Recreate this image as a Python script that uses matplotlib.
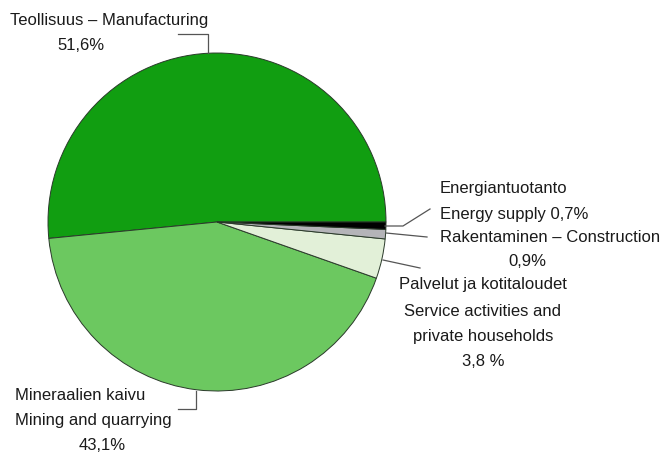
import matplotlib
matplotlib.use("Agg")
import matplotlib.pyplot as plt

# shares of the total, in percent
sectors = ["Manufacturing", "Mining", "Service", "Construction", "Energy"]
shares = [51.6, 43.1, 3.8, 0.9, 0.7]
colors = ["#119e11", "#6cc860", "#e2f0d8", "#b4b4b8", "#000000"]

plt.rcParams['font.family'] = ['Liberation Sans Narrow', 'Liberation Sans', 'DejaVu Sans']

fig = plt.figure(figsize=(6.61, 4.57), dpi=100)
ax = fig.add_axes([0, 0, 1, 1])

# pixel-like coordinates, y pointing down
ax.pie(shares, colors=colors, startangle=0, counterclock=False,
       center=(217, 222), radius=169,
       wedgeprops=dict(edgecolor="#2a3a2a", linewidth=0.7))
ax.set_xlim(0, 661)
ax.set_ylim(457, 0)
ax.set_aspect("equal")
ax.axis("off")

fs = 12
tc = "#1a1a1a"

def txt(x, y, s, ha="left"):
    ax.text(x, y, s, ha=ha, va="center", fontsize=fs, color=tc)

def pct(v, sep=""):
    return f"{v:.1f}{sep}%".replace(".", ",")

txt(10, 20, "Teollisuus – Manufacturing")
txt(81, 46, pct(shares[0]), ha="center")

txt(440, 188, "Energiantuotanto")
txt(440, 215, "Energy supply " + pct(shares[4]))

txt(440, 238, "Rakentaminen – Construction")
txt(527, 261, pct(shares[3]), ha="center")

txt(483, 285, "Palvelut ja kotitaloudet", ha="center")
txt(483, 311, "Service activities and", ha="center")
txt(483, 337, "private households", ha="center")
txt(483, 362, pct(shares[2], " "), ha="center")

txt(15, 395, "Mineraalien kaivu")
txt(15, 420, "Mining and quarrying")
txt(102, 446, pct(shares[1]), ha="center")

# leader lines
lc = "#555555"
lw = 0.9
ax.plot([178, 208, 208], [34, 34, 53], color=lc, lw=lw)
ax.plot([385, 403, 430], [226, 226, 209], color=lc, lw=lw)
ax.plot([386, 427], [233, 237], color=lc, lw=lw)
ax.plot([383, 420], [260, 268], color=lc, lw=lw)
ax.plot([196, 196, 178], [391, 409, 409], color=lc, lw=lw)

fig.savefig("out.png", dpi=100)
